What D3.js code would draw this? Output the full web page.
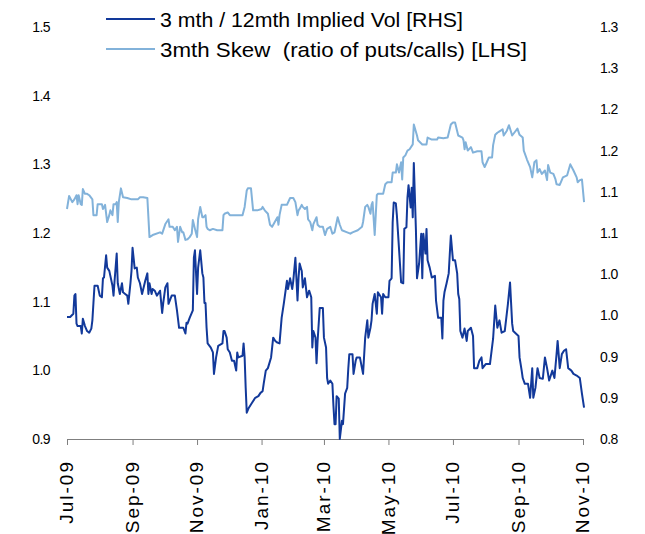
<!DOCTYPE html>
<html>
<head>
<meta charset="utf-8">
<script src="https://cdn.jsdelivr.net/npm/d3@7"></script>
<style>
  body { margin: 0; background: #fff; }
  svg { display: block; }
</style>
</head>
<body>
<script>
// 3mth skew
var skewData = [
  ['2009-07-01',1.235],['2009-07-03',1.254],['2009-07-06',1.245],['2009-07-08',1.249],['2009-07-10',1.255],
  ['2009-07-11',1.242],['2009-07-12',1.255],['2009-07-14',1.242],['2009-07-15',1.241],['2009-07-16',1.264],
  ['2009-07-18',1.257],['2009-07-20',1.257],['2009-07-22',1.255],['2009-07-25',1.249],['2009-07-26',1.226],
  ['2009-07-29',1.226],['2009-07-30',1.242],['2009-08-03',1.242],['2009-08-04',1.235],['2009-08-06',1.241],
  ['2009-08-08',1.216],['2009-08-10',1.226],['2009-08-11',1.233],['2009-08-13',1.226],['2009-08-14',1.242],
  ['2009-08-16',1.242],['2009-08-17',1.245],['2009-08-18',1.216],['2009-08-19',1.245],['2009-08-21',1.265],
  ['2009-08-23',1.252],['2009-08-27',1.251],['2009-08-31',1.249],['2009-09-06',1.249],['2009-09-08',1.252],
  ['2009-09-11',1.252],['2009-09-15',1.251],['2009-09-17',1.194],['2009-09-20',1.197],['2009-09-27',1.201],
  ['2009-09-29',1.199],['2009-10-02',1.213],['2009-10-05',1.220],['2009-10-06',1.209],['2009-10-09',1.209],
  ['2009-10-11',1.204],['2009-10-13',1.209],['2009-10-14',1.187],['2009-10-16',1.209],['2009-10-18',1.201],
  ['2009-10-19',1.201],['2009-10-21',1.190],['2009-10-23',1.191],['2009-10-25',1.194],['2009-10-27',1.199],
  ['2009-10-28',1.219],['2009-10-30',1.206],['2009-11-01',1.194],['2009-11-02',1.220],['2009-11-04',1.238],
  ['2009-11-06',1.223],['2009-11-07',1.223],['2009-11-09',1.226],['2009-11-10',1.209],['2009-11-11',1.206],
  ['2009-11-13',1.204],['2009-11-16',1.206],['2009-11-20',1.204],['2009-11-25',1.204],['2009-11-26',1.226],
  ['2009-11-27',1.228],['2009-11-30',1.230],['2009-12-02',1.226],['2009-12-14',1.226],['2009-12-16',1.238],
  ['2009-12-18',1.262],['2009-12-19',1.265],['2009-12-22',1.265],['2009-12-24',1.233],['2009-12-28',1.233],
  ['2010-01-01',1.235],['2010-01-02',1.238],['2010-01-04',1.233],['2010-01-07',1.228],['2010-01-09',1.212],
  ['2010-01-11',1.209],['2010-01-16',1.223],['2010-01-17',1.212],['2010-01-18',1.226],['2010-01-20',1.241],
  ['2010-01-25',1.241],['2010-01-28',1.251],['2010-01-31',1.251],['2010-02-02',1.245],['2010-02-04',1.226],
  ['2010-02-05',1.233],['2010-02-06',1.235],['2010-02-08',1.241],['2010-02-09',1.238],['2010-02-11',1.235],
  ['2010-02-13',1.238],['2010-02-14',1.220],['2010-02-16',1.216],['2010-02-18',1.204],['2010-02-19',1.213],
  ['2010-02-22',1.223],['2010-02-23',1.212],['2010-02-25',1.209],['2010-02-28',1.209],['2010-03-02',1.197],
  ['2010-03-04',1.206],['2010-03-07',1.209],['2010-03-09',1.199],['2010-03-11',1.201],['2010-03-14',1.223],
  ['2010-03-16',1.212],['2010-03-18',1.204],['2010-03-23',1.201],['2010-03-26',1.199],['2010-03-28',1.201],
  ['2010-04-02',1.204],['2010-04-06',1.209],['2010-04-07',1.216],['2010-04-09',1.238],['2010-04-11',1.241],
  ['2010-04-12',1.238],['2010-04-14',1.228],['2010-04-15',1.241],['2010-04-16',1.245],['2010-04-18',1.197],
  ['2010-04-20',1.255],['2010-04-21',1.257],['2010-04-26',1.257],['2010-04-28',1.271],['2010-04-30',1.274],
  ['2010-05-04',1.274],['2010-05-05',1.288],['2010-05-08',1.288],['2010-05-09',1.300],['2010-05-11',1.288],
  ['2010-05-13',1.303],['2010-05-14',1.278],['2010-05-15',1.310],['2010-05-17',1.313],['2010-05-19',1.320],
  ['2010-05-21',1.322],['2010-05-24',1.329],['2010-05-25',1.358],['2010-05-28',1.342],['2010-05-29',1.335],
  ['2010-06-02',1.329],['2010-06-06',1.329],['2010-06-07',1.339],['2010-06-11',1.336],['2010-06-16',1.336],
  ['2010-06-17',1.339],['2010-06-22',1.338],['2010-06-26',1.339],['2010-06-29',1.358],['2010-07-01',1.361],
  ['2010-07-03',1.361],['2010-07-06',1.342],['2010-07-10',1.339],['2010-07-11',1.335],['2010-07-12',1.322],
  ['2010-07-13',1.332],['2010-07-15',1.320],['2010-07-18',1.325],['2010-07-20',1.317],['2010-07-24',1.319],
  ['2010-07-28',1.319],['2010-07-29',1.303],['2010-07-31',1.296],['2010-08-02',1.303],['2010-08-04',1.310],
  ['2010-08-07',1.310],['2010-08-08',1.328],['2010-08-10',1.343],['2010-08-12',1.346],['2010-08-14',1.348],
  ['2010-08-17',1.351],['2010-08-18',1.342],['2010-08-21',1.349],['2010-08-23',1.357],['2010-08-26',1.342],
  ['2010-08-28',1.346],['2010-08-31',1.352],['2010-09-02',1.343],['2010-09-05',1.339],['2010-09-06',1.320],
  ['2010-09-09',1.307],['2010-09-12',1.296],['2010-09-14',1.281],['2010-09-16',1.303],['2010-09-18',1.306],
  ['2010-09-19',1.288],['2010-09-21',1.293],['2010-09-23',1.286],['2010-09-26',1.291],['2010-09-28',1.277],
  ['2010-09-29',1.299],['2010-10-01',1.288],['2010-10-04',1.286],['2010-10-06',1.278],['2010-10-07',1.271],
  ['2010-10-10',1.270],['2010-10-13',1.281],['2010-10-17',1.284],['2010-10-20',1.300],['2010-10-23',1.291],
  ['2010-10-26',1.281],['2010-10-27',1.274],['2010-10-29',1.277],['2010-10-31',1.278],['2010-11-02',1.245]
];

// 3 mth / 12mth implied vol
var volData = [
  ['2009-07-01',0.948],['2009-07-04',0.948],['2009-07-07',0.952],['2009-07-08',0.974],['2009-07-09',0.976],
  ['2009-07-10',0.940],['2009-07-11',0.937],['2009-07-14',0.937],['2009-07-15',0.928],['2009-07-16',0.946],
  ['2009-07-18',0.937],['2009-07-20',0.931],['2009-07-22',0.929],['2009-07-24',0.934],['2009-07-25',0.944],
  ['2009-07-26',0.965],['2009-07-27',0.986],['2009-07-30',0.986],['2009-08-01',0.974],['2009-08-03',0.972],
  ['2009-08-04',0.995],['2009-08-05',0.996],['2009-08-07',1.023],['2009-08-08',1.008],['2009-08-10',1.004],
  ['2009-08-13',0.986],['2009-08-14',0.974],['2009-08-15',0.992],['2009-08-17',1.025],['2009-08-18',0.989],
  ['2009-08-20',0.976],['2009-08-22',0.989],['2009-08-23',0.978],['2009-08-25',0.976],['2009-08-27',0.974],
  ['2009-08-28',0.964],['2009-08-30',0.989],['2009-08-31',1.004],['2009-09-01',1.032],['2009-09-03',1.007],
  ['2009-09-05',1.008],['2009-09-06',0.996],['2009-09-08',0.989],['2009-09-10',0.976],['2009-09-13',0.992],
  ['2009-09-15',1.001],['2009-09-16',0.976],['2009-09-17',0.989],['2009-09-19',0.976],['2009-09-20',0.982],
  ['2009-09-22',0.980],['2009-09-24',0.974],['2009-09-27',0.980],['2009-09-29',0.953],['2009-09-30',0.965],
  ['2009-10-02',0.984],['2009-10-04',0.989],['2009-10-05',0.964],['2009-10-08',0.974],['2009-10-11',0.974],
  ['2009-10-13',0.956],['2009-10-15',0.935],['2009-10-19',0.935],['2009-10-21',0.928],['2009-10-22',0.941],
  ['2009-10-23',0.940],['2009-10-25',0.947],['2009-10-27',0.953],['2009-10-28',0.956],['2009-10-29',1.020],
  ['2009-10-30',1.029],['2009-11-01',0.976],['2009-11-02',1.008],['2009-11-04',1.029],['2009-11-06',1.001],
  ['2009-11-07',0.996],['2009-11-08',0.965],['2009-11-09',0.965],['2009-11-10',0.935],['2009-11-11',0.916],
  ['2009-11-14',0.911],['2009-11-16',0.905],['2009-11-17',0.879],['2009-11-19',0.899],['2009-11-21',0.913],
  ['2009-11-25',0.916],['2009-11-26',0.931],['2009-11-27',0.931],['2009-11-29',0.923],['2009-11-30',0.909],
  ['2009-12-02',0.905],['2009-12-04',0.895],['2009-12-06',0.895],['2009-12-08',0.883],['2009-12-09',0.905],
  ['2009-12-10',0.899],['2009-12-14',0.901],['2009-12-15',0.916],['2009-12-16',0.899],['2009-12-17',0.862],
  ['2009-12-18',0.832],['2009-12-20',0.838],['2009-12-23',0.844],['2009-12-26',0.850],['2009-12-29',0.852],
  ['2009-12-31',0.856],['2010-01-02',0.858],['2010-01-03',0.867],['2010-01-05',0.883],['2010-01-07',0.886],
  ['2010-01-10',0.899],['2010-01-11',0.911],['2010-01-12',0.923],['2010-01-14',0.919],['2010-01-16',0.917],
  ['2010-01-18',0.916],['2010-01-20',0.947],['2010-01-22',0.964],['2010-01-25',0.992],['2010-01-26',0.982],
  ['2010-01-28',0.995],['2010-01-30',0.982],['2010-01-31',0.992],['2010-02-02',1.020],['2010-02-04',0.968],
  ['2010-02-05',0.996],['2010-02-06',1.013],['2010-02-08',1.004],['2010-02-09',0.984],['2010-02-11',0.995],
  ['2010-02-13',0.972],['2010-02-15',0.980],['2010-02-17',0.972],['2010-02-18',0.911],['2010-02-19',0.931],
  ['2010-02-21',0.923],['2010-02-22',0.892],['2010-02-23',0.919],['2010-02-25',0.959],['2010-02-28',0.959],
  ['2010-03-01',0.923],['2010-03-03',0.911],['2010-03-04',0.874],['2010-03-05',0.867],['2010-03-07',0.871],
  ['2010-03-09',0.867],['2010-03-10',0.840],['2010-03-11',0.818],['2010-03-12',0.818],['2010-03-13',0.852],
  ['2010-03-15',0.849],['2010-03-16',0.800],['2010-03-18',0.822],['2010-03-19',0.818],['2010-03-21',0.855],
  ['2010-03-23',0.862],['2010-03-24',0.885],['2010-03-25',0.903],['2010-03-28',0.903],['2010-03-29',0.879],
  ['2010-03-31',0.895],['2010-04-01',0.899],['2010-04-04',0.899],['2010-04-07',0.879],['2010-04-09',0.923],
  ['2010-04-11',0.944],['2010-04-12',0.923],['2010-04-14',0.935],['2010-04-15',0.944],['2010-04-16',0.964],
  ['2010-04-18',0.976],['2010-04-20',0.952],['2010-04-21',0.978],['2010-04-24',0.972],['2010-04-25',0.952],
  ['2010-04-26',0.976],['2010-04-28',0.972],['2010-05-01',0.972],['2010-05-02',0.992],['2010-05-04',0.995],
  ['2010-05-05',1.063],['2010-05-06',1.087],['2010-05-08',1.086],['2010-05-09',1.071],['2010-05-11',1.031],
  ['2010-05-13',0.990],['2010-05-15',0.989],['2010-05-16',1.055],['2010-05-18',1.057],['2010-05-19',1.093],
  ['2010-05-20',1.108],['2010-05-22',1.081],['2010-05-23',1.105],['2010-05-24',1.069],['2010-05-25',1.135],
  ['2010-05-27',1.053],['2010-05-28',0.995],['2010-05-30',1.013],['2010-06-01',1.049],['2010-06-02',0.995],
  ['2010-06-03',1.049],['2010-06-05',1.025],['2010-06-06',1.055],['2010-06-07',1.017],['2010-06-09',1.008],
  ['2010-06-11',0.996],['2010-06-14',0.998],['2010-06-15',0.968],['2010-06-17',0.947],['2010-06-20',0.947],
  ['2010-06-21',0.922],['2010-06-22',0.968],['2010-06-23',0.978],['2010-06-25',0.989],['2010-06-27',1.001],
  ['2010-06-29',1.047],['2010-07-01',1.017],['2010-07-03',1.017],['2010-07-05',1.001],['2010-07-06',0.976],
  ['2010-07-07',0.970],['2010-07-08',0.931],['2010-07-10',0.923],['2010-07-12',0.934],['2010-07-14',0.919],
  ['2010-07-15',0.931],['2010-07-18',0.935],['2010-07-20',0.925],['2010-07-21',0.886],['2010-07-24',0.886],
  ['2010-07-26',0.895],['2010-07-28',0.899],['2010-07-29',0.886],['2010-08-01',0.891],['2010-08-05',0.891],
  ['2010-08-08',0.922],['2010-08-10',0.962],['2010-08-12',0.935],['2010-08-14',0.944],['2010-08-16',0.929],
  ['2010-08-19',0.931],['2010-08-22',0.964],['2010-08-24',0.990],['2010-08-26',0.940],['2010-08-27',0.931],
  ['2010-09-01',0.925],['2010-09-02',0.899],['2010-09-04',0.883],['2010-09-05',0.874],['2010-09-07',0.867],
  ['2010-09-10',0.867],['2010-09-12',0.850],['2010-09-14',0.886],['2010-09-15',0.850],['2010-09-17',0.862],
  ['2010-09-19',0.886],['2010-09-21',0.874],['2010-09-24',0.873],['2010-09-26',0.899],['2010-09-28',0.886],
  ['2010-09-30',0.871],['2010-10-03',0.883],['2010-10-05',0.874],['2010-10-07',0.903],['2010-10-08',0.919],
  ['2010-10-10',0.886],['2010-10-12',0.903],['2010-10-14',0.907],['2010-10-16',0.909],['2010-10-18',0.886],
  ['2010-10-21',0.883],['2010-10-23',0.879],['2010-10-26',0.877],['2010-10-29',0.874],['2010-10-31',0.855],
  ['2010-11-02',0.838]
];

var leftTicks = [0.9, 1.0, 1.1, 1.2, 1.3, 1.4, 1.5];
var rightTicks = [0.8, 0.85, 0.9, 0.95, 1.0, 1.05, 1.1, 1.15, 1.2, 1.25, 1.3];
var rightTickLabels = ['0.8', '0.9', '0.9', '1.0', '1.0', '1.1', '1.1', '1.2', '1.2', '1.3', '1.3'];
var monthTicks = ['2009-07-01', '2009-09-01', '2009-11-01', '2010-01-01', '2010-03-01',
  '2010-05-01', '2010-07-01', '2010-09-01', '2010-11-01'];
var seriesNames = ['3 mth / 12mth Implied Vol [RHS]', '3mth Skew  (ratio of puts/calls) [LHS]'];

var darkBlue = '#12399a';
var lightBlue = '#82b2da';

var parse = d3.timeParse('%Y-%m-%d');

var svg = d3.select('body')
  .append('svg')
  .attr('width', 645)
  .attr('height', 534);

var x = d3.scaleTime()
  .domain([parse('2009-07-01'), parse('2010-11-01')])
  .range([67, 583]);

var yLeft = d3.scaleLinear().domain([0.9, 1.5]).range([439, 27]);
var yRight = d3.scaleLinear().domain([0.8, 1.3]).range([439, 27]);

// x axis
var xAxis = svg.append('g')
  .attr('transform', 'translate(0,439)')
  .call(d3.axisBottom(x)
    .tickValues(monthTicks.map(parse))
    .tickFormat(d3.timeFormat('%b-%y'))
    .tickSize(6)
    .tickSizeOuter(0));

xAxis.select('.domain').attr('stroke', '#7f7f7f');
xAxis.selectAll('.tick line').attr('stroke', '#7f7f7f');
xAxis.selectAll('.tick text')
  .attr('transform', 'rotate(-90)')
  .attr('x', -21)
  .attr('y', 0)
  .attr('dy', '0.3em')
  .attr('text-anchor', 'end')
  .attr('fill', '#000')
  .style('font-family', '"Liberation Sans", Arial, sans-serif')
  .style('font-size', '19px')
  .style('letter-spacing', '2px');

// left labels
svg.append('g')
  .selectAll('text')
  .data(leftTicks)
  .enter()
  .append('text')
  .attr('x', 50)
  .attr('y', (d) => yLeft(d))
  .attr('dy', '0.36em')
  .attr('text-anchor', 'end')
  .style('font-family', '"Liberation Sans", Arial, sans-serif')
  .style('font-size', '14px')
  .style('letter-spacing', '-0.6px')
  .text((d) => d3.format('.1f')(d));

// right labels
svg.append('g')
  .selectAll('text')
  .data(rightTicks)
  .enter()
  .append('text')
  .attr('x', 600)
  .attr('y', (d) => yRight(d))
  .attr('dy', '0.36em')
  .attr('text-anchor', 'start')
  .style('font-family', '"Liberation Sans", Arial, sans-serif')
  .style('font-size', '14px')
  .style('letter-spacing', '-0.6px')
  .text((d, i) => rightTickLabels[i]);

var skewLine = d3.line()
  .x((d) => x(parse(d[0])))
  .y((d) => yLeft(d[1]));

var volLine = d3.line()
  .x((d) => x(parse(d[0])))
  .y((d) => yRight(d[1]));

svg.append('path')
  .datum(skewData)
  .attr('fill', 'none')
  .attr('stroke', lightBlue)
  .attr('stroke-width', 2)
  .attr('stroke-linejoin', 'round')
  .attr('d', skewLine);

svg.append('path')
  .datum(volData)
  .attr('fill', 'none')
  .attr('stroke', darkBlue)
  .attr('stroke-width', 2)
  .attr('stroke-linejoin', 'round')
  .attr('d', volLine);

// legend
var legendColors = [darkBlue, lightBlue];
var legendWidths = [303, 367];

var legend = svg.append('g');

var rows = legend.selectAll('g')
  .data(seriesNames)
  .enter()
  .append('g')
  .attr('transform', (d, i) => 'translate(0,' + (19 + i * 30) + ')');

rows.append('line')
  .attr('x1', 106)
  .attr('x2', 155)
  .attr('stroke', (d, i) => legendColors[i])
  .attr('stroke-width', 2);

rows.append('text')
  .attr('x', 160)
  .attr('dy', '0.36em')
  .attr('textLength', (d, i) => legendWidths[i])
  .attr('lengthAdjust', 'spacingAndGlyphs')
  .style('white-space', 'pre')
  .style('font-family', '"Liberation Sans", Arial, sans-serif')
  .style('font-size', '21px')
  .text((d) => d);
</script>
</body>
</html>
